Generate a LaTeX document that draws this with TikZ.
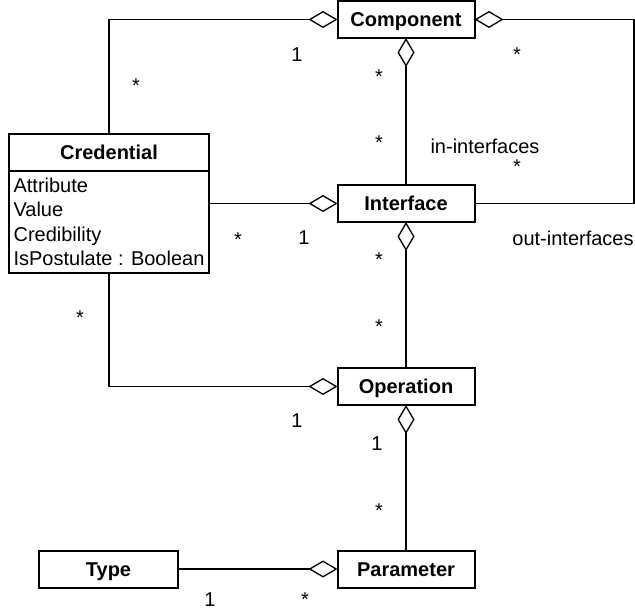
\documentclass[tikz,border=0pt]{standalone}
\usepackage{fontspec}
\setmainfont{Liberation Sans}
\usetikzlibrary{arrows.meta}
\usetikzlibrary{positioning}

\begin{document}
\begin{tikzpicture}[
    x=0.5pt, y=-0.5pt,
    every node/.style={font=\fontsize{10}{12.25}\selectfont},
    class/.style={
        draw, line width=1pt, outer sep=0pt, inner sep=0pt,
        minimum width=68.5pt, minimum height=18.5pt,
        text height=7.2pt, text depth=0pt,
        font=\fontsize{10}{12.25}\selectfont\bfseries
    },
    agg/.style={
        line width=0.65pt,
        -{Diamond[open, length=14.5pt, width=8.5pt]}
    }
    ]

    \useasboundingbox (0,0) rectangle (635,609);

    % classes
    \node[class] (comp) at (406,19.5) {Component};
    \node[class] (iface) at (406,203.5) {Interface};
    \node[class] (oper) at (406,386.5) {Operation};
    \node[class] (param) at (406,569) {Parameter};
    \node[class, minimum width=69.5pt] (type) at (108.5,569) {Type};
    \node[class, minimum width=100pt] (cred) at (109,152.5) {Credential};
    \node[draw, line width=1pt, outer sep=0pt, inner xsep=1.6pt, inner ysep=0pt,
          below=0pt of cred, minimum width=100pt, minimum height=51pt,
          align=left] (credattr)
          {Attribute\\Value\\Credibility\\IsPostulate : Boolean};
    \coordinate (loop) at (634,0);

    % aggregations
    \draw[agg] (cred.north) |- (comp.west);
    \draw[agg] (iface.east) -- (iface.east -| loop) |- (comp.east);
    \draw[agg] (iface.north) -- (comp.south);
    \draw[agg] (credattr.east |- iface.west) -- (iface.west);
    \draw[agg] (oper.north) -- (iface.south);
    \draw[agg] (credattr.south) |- (oper.west);
    \draw[agg] (param.north) -- (oper.south);
    \draw[agg] (type.east) -- (param.west);

    % multiplicities and roles
    \node (cc1) at (297,55) {1};
    \node (cc2) at (136,86) {*};
    \node (ci1) at (304,238) {1};
    \node (ci2) at (238,240) {*};
    \node (co1) at (297,421) {1};
    \node (co2) at (80,318) {*};
    \node (tp1) at (210,600) {1};
    \node (tp2) at (305,600) {*};
    \node (in1) at (379,77) {*};
    \node (in2) at (379,143) {*};
    \node (inrole) at (485,146) {in-interfaces};
    \node (out1) at (517,55) {*};
    \node (out2) at (517,167) {*};
    \node (outrole) at (573,238) {out-interfaces};
    \node (io1) at (379,260) {*};
    \node (io2) at (379,327) {*};
    \node (op1) at (377,444) {1};
    \node (op2) at (379,511) {*};
\end{tikzpicture}
\end{document}
